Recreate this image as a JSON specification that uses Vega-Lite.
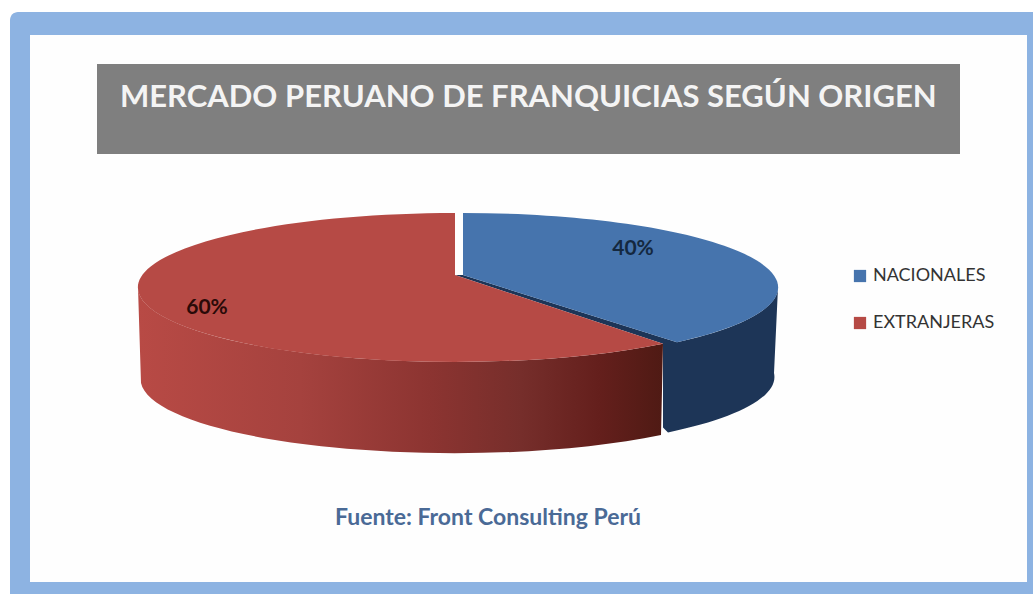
{
"$schema":"https://vega.github.io/schema/vega-lite/v6.json",
"width":1033,"height":594,"padding":0,"autosize":{"type":"none"},"background":"#ffffff",
"title":{"text":"MERCADO PERUANO DE FRANQUICIAS SEGÚN ORIGEN","anchor":"start","frame":"group","offset":0,"dx":120,"dy":138,"baseline":"alphabetic","font":"Lato","fontSize":31,"fontWeight":"bold","color":"#f4f4f4","zindex":1},
"config":{"view":{"stroke":null},"axis":{"grid":false}},
"data":{"values":[{"origen":"NACIONALES","cuota":0.4},{"origen":"EXTRANJERAS","cuota":0.6}]},
"layer":[
{"data":{"values":[{"panel":"marco"}]},"mark":{"type":"rect","fill":"#8db3e2","cornerRadiusTopLeft":8},
 "encoding":{"x":{"datum":10,"type":"quantitative","axis":null,"scale":{"domain":[0,1033],"nice":false,"zero":false}},"x2":{"datum":1033},"y":{"datum":12,"type":"quantitative","axis":null,"scale":{"domain":[0,594],"nice":false,"zero":false,"reverse":true}},"y2":{"datum":594}}},
{"data":{"values":[{"panel":"fondo"}]},"mark":{"type":"rect","fill":"#fefefe"},
 "encoding":{"x":{"datum":30,"type":"quantitative","axis":null,"scale":{"domain":[0,1033],"nice":false,"zero":false}},"x2":{"datum":1027},"y":{"datum":35,"type":"quantitative","axis":null,"scale":{"domain":[0,594],"nice":false,"zero":false,"reverse":true}},"y2":{"datum":582}}},
{"data":{"values":[{"panel":"titulo"}]},"mark":{"type":"rect","fill":"#7f7f7f"},
 "encoding":{"x":{"datum":97,"type":"quantitative","axis":null,"scale":{"domain":[0,1033],"nice":false,"zero":false}},"x2":{"datum":960},"y":{"datum":64,"type":"quantitative","axis":null,"scale":{"domain":[0,594],"nice":false,"zero":false,"reverse":true}},"y2":{"datum":154}}},
{"transform":[{"filter":"datum.origen==='NACIONALES'"}],
 "mark":{"type":"point","filled":true,"opacity":1,"size":4,"fill":"#1d3557","stroke":null,"shape":"M-3,-12.5L5,-12.5L219,54.7L205,56.2ZM320,0A315,74.5 0 0,1 219,54.7L205,56.2L205,140L210,145A313,74 0 0,0 316,85.5Z"},
 "encoding":{"x":{"datum":458,"type":"quantitative","axis":null,"scale":{"domain":[0,1033],"nice":false,"zero":false}},"y":{"datum":287.5,"type":"quantitative","axis":null,"scale":{"domain":[0,594],"nice":false,"zero":false,"reverse":true}}}},
{"transform":[{"filter":"datum.origen==='EXTRANJERAS'"}],
 "mark":{"type":"point","filled":true,"opacity":1,"size":4,"stroke":null,"fill":{"gradient":"linear","x1":0,"y1":0,"x2":1,"y2":0,"stops":[{"offset":0,"color":"#b84a45"},{"offset":0.31,"color":"#a5423e"},{"offset":0.556,"color":"#8c3431"},{"offset":0.73,"color":"#762e2b"},{"offset":0.88,"color":"#641f1c"},{"offset":1,"color":"#4f1a14"}]},"shape":"M-320,0A317,74.5 0 0,0 205,56.2L203,147.5A314,74 0 0,1 -317,95.5Z"},
 "encoding":{"x":{"datum":458,"type":"quantitative","axis":null,"scale":{"domain":[0,1033],"nice":false,"zero":false}},"y":{"datum":287.5,"type":"quantitative","axis":null,"scale":{"domain":[0,594],"nice":false,"zero":false,"reverse":true}}}},
{"mark":{"type":"point","filled":true,"opacity":1,"size":4,"stroke":null},
 "encoding":{"x":{"datum":458,"type":"quantitative","axis":null,"scale":{"domain":[0,1033],"nice":false,"zero":false}},"y":{"datum":287.5,"type":"quantitative","axis":null,"scale":{"domain":[0,594],"nice":false,"zero":false,"reverse":true}},
  "shape":{"field":"cuota","type":"nominal","legend":null,"scale":{"domain":[0.4,0.6],"range":["M5,-12.5L5,-74.5A315,74.5 0 0,1 219,54.7Z","M-3,-12.5L-3,-74.5A317,74.5 0 1,0 205,56.2Z"]}},
  "color":{"field":"origen","type":"nominal","sort":null,"scale":{"domain":["NACIONALES","EXTRANJERAS"],"range":["#4674ad","#b64a45"]},
   "legend":{"title":null,"orient":"none","legendX":851,"legendY":267,"padding":0,"symbolType":"square","symbolSize":150,"symbolStrokeWidth":0,"labelFont":"Lato","labelFontSize":18,"labelColor":"#333333","labelOffset":4,"rowPadding":29}}}},
{"transform":[{"filter":"datum.origen==='NACIONALES'"}],"mark":{"type":"text","font":"Lato","fontWeight":"bold","fontSize":21,"color":"#14283f"},
 "encoding":{"x":{"datum":633,"type":"quantitative","axis":null,"scale":{"domain":[0,1033],"nice":false,"zero":false}},"y":{"datum":249,"type":"quantitative","axis":null,"scale":{"domain":[0,594],"nice":false,"zero":false,"reverse":true}},"text":{"field":"cuota","type":"quantitative","format":".0%"}}},
{"transform":[{"filter":"datum.origen==='EXTRANJERAS'"}],"mark":{"type":"text","font":"Lato","fontWeight":"bold","fontSize":21,"color":"#2a0a08"},
 "encoding":{"x":{"datum":207,"type":"quantitative","axis":null,"scale":{"domain":[0,1033],"nice":false,"zero":false}},"y":{"datum":308,"type":"quantitative","axis":null,"scale":{"domain":[0,594],"nice":false,"zero":false,"reverse":true}},"text":{"field":"cuota","type":"quantitative","format":".0%"}}},
{"data":{"values":[{"fuente":"Fuente: Front Consulting Perú"}]},"mark":{"type":"text","font":"Lato","fontWeight":"bold","fontSize":23,"color":"#4a6a96"},
 "encoding":{"x":{"datum":488,"type":"quantitative","axis":null,"scale":{"domain":[0,1033],"nice":false,"zero":false}},"y":{"datum":518,"type":"quantitative","axis":null,"scale":{"domain":[0,594],"nice":false,"zero":false,"reverse":true}},"text":{"field":"fuente","type":"nominal"}}}
],
"resolve":{"scale":{"x":"shared","y":"shared"}}
}
